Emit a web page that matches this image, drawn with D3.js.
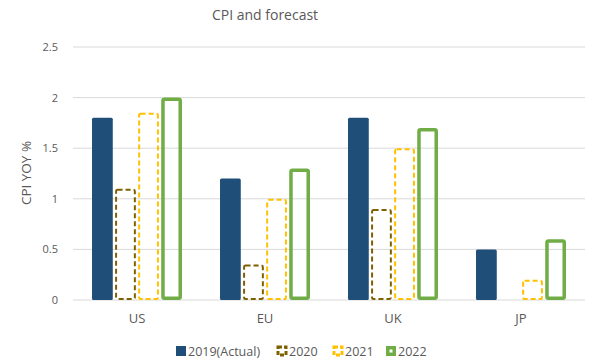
<!DOCTYPE html>
<html>
<head>
<meta charset="utf-8">
<script src="https://cdn.jsdelivr.net/npm/d3@7"></script>
<style>
  body { margin: 0; background: #fff; }
  svg { font-family: "Open Sans", Lato, sans-serif; }
</style>
</head>
<body>
<svg width="589" height="362"></svg>
<script>
const svg = d3.select("svg");

// data
const countries = ["US", "EU", "UK", "JP"];
const seriesNames = ["2019(Actual)", "2020", "2021", "2022"];
const v2019 = [1.8, 1.2, 1.8, 0.5];
const v2020 = [1.1, 0.35, 0.9, 0];
const v2021 = [1.85, 1.0, 1.5, 0.2];
const v2022 = [2.0, 1.3, 1.7, 0.6];
const yTicks = [0, 0.5, 1, 1.5, 2, 2.5];
const yTickLabels = ["0", "0.5", "1", "1.5", "2", "2.5"];

const allSeries = [v2019, v2020, v2021, v2022];

// style per series
const styles = [
  { fill: "#1f4e79", stroke: "none", sw: 0, dash: null },
  { fill: "none", stroke: "#7f6000", sw: 2, dash: "5,3" },
  { fill: "none", stroke: "#ffc000", sw: 2, dash: "5,3" },
  { fill: "none", stroke: "#70ad47", sw: 3.5, dash: null }
];

const x = d3.scaleBand().domain(countries).range([73, 585]).paddingInner(0.297).paddingOuter(0.1485);
const xs = d3.scaleBand().domain(d3.range(4)).range([0, x.bandwidth()]).paddingInner(0.1);
const y = d3.scaleLinear().domain([0, 2.5]).range([300, 47]);

// gridlines
svg.append("g").selectAll("line")
  .data(yTicks)
  .join("line")
  .attr("x1", 73).attr("x2", 585)
  .attr("y1", d => y(d)).attr("y2", d => y(d))
  .attr("stroke", "#d9d9d9").attr("stroke-width", 1);

// y tick labels
svg.append("g").selectAll("text")
  .data(yTicks)
  .join("text")
  .attr("x", 58).attr("y", d => y(d) + 4)
  .attr("text-anchor", "end")
  .attr("font-size", 11).attr("fill", "#595959")
  .text((d, i) => yTickLabels[i]);

// bars
allSeries.forEach((vals, s) => {
  const st = styles[s];
  const half = st.sw / 2;
  svg.append("g").selectAll("rect")
    .data(vals.map((v, i) => ({ c: countries[i], v })).filter(d => d.v > 0))
    .join("rect")
    .attr("x", d => x(d.c) + xs(s) + half)
    .attr("y", d => y(d.v) + half)
    .attr("width", xs.bandwidth() - st.sw)
    .attr("height", d => Math.max(0, y(0) - y(d.v) - st.sw))
    .attr("rx", 1.5)
    .attr("fill", st.fill)
    .attr("stroke", st.stroke)
    .attr("stroke-width", st.sw)
    .attr("stroke-dasharray", st.dash);
});

// x labels
svg.append("g").selectAll("text")
  .data(countries)
  .join("text")
  .attr("x", d => x(d) + x.bandwidth() / 2)
  .attr("y", 323)
  .attr("text-anchor", "middle")
  .attr("font-size", 13).attr("fill", "#595959")
  .text(d => d);

// title
svg.append("text")
  .attr("x", 265).attr("y", 20)
  .attr("text-anchor", "middle")
  .attr("font-size", 14).attr("fill", "#595959")
  .text("CPI and forecast");

// y axis title
svg.append("text")
  .attr("transform", "translate(31,173) rotate(-90)")
  .attr("text-anchor", "middle")
  .attr("font-size", 13.5).attr("fill", "#595959")
  .text("CPI YOY %");

// legend
const legendX = [176, 277, 333, 386];
const legend = svg.append("g").selectAll("g")
  .data(seriesNames)
  .join("g")
  .attr("transform", (d, i) => `translate(${legendX[i]},346)`);

legend.append("rect")
  .attr("x", (d, i) => styles[i].sw / 2)
  .attr("y", (d, i) => styles[i].sw / 2)
  .attr("width", (d, i) => 10 - styles[i].sw)
  .attr("height", (d, i) => 10 - styles[i].sw)
  .attr("fill", (d, i) => styles[i].fill)
  .attr("stroke", (d, i) => styles[i].stroke)
  .attr("stroke-width", (d, i) => styles[i].sw + (i === 1 || i === 2 ? 1 : 0))
  .attr("stroke-dasharray", (d, i) => styles[i].dash ? "4,2" : null);

legend.append("text")
  .attr("x", 12).attr("y", 10)
  .attr("font-size", 12.5).attr("fill", "#595959")
  .text(d => d);
</script>
</body>
</html>
